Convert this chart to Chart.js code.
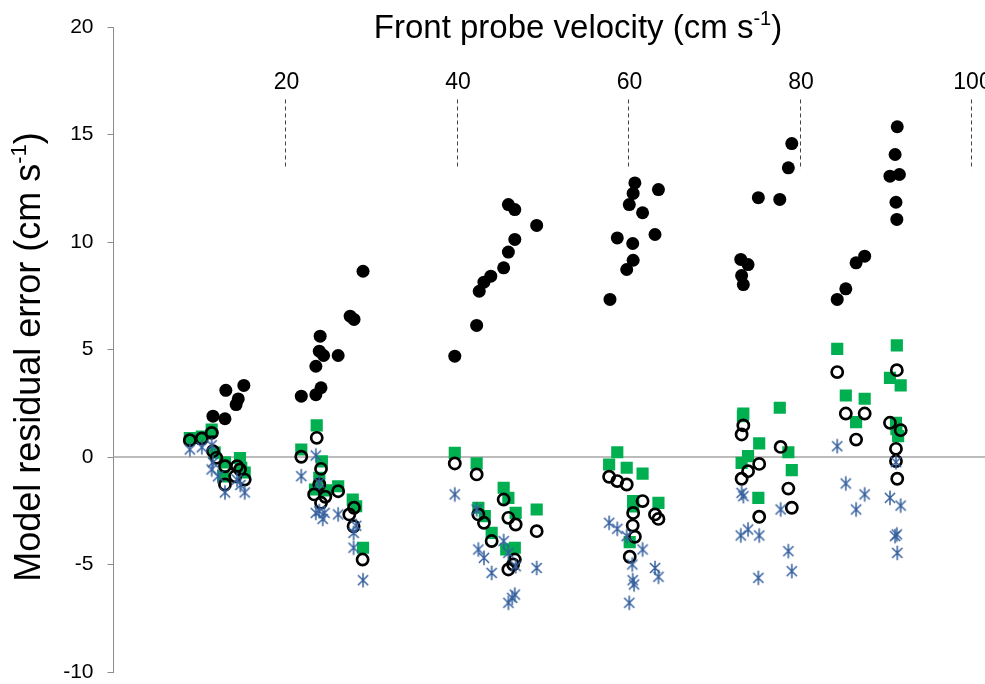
<!DOCTYPE html>
<html>
<head>
<meta charset="utf-8">
<script src="https://cdn.jsdelivr.net/npm/chart.js@4.4.1/dist/chart.umd.min.js"></script>
<style>
html,body{margin:0;padding:0;background:#fff;}
#wrap{width:985px;height:684px;}
</style>
</head>
<body>
<div id="wrap"><canvas id="c" width="985" height="684"></canvas></div>
<script>
// ---- data (front probe velocity, residual error) ----
const filledX = [8.9,10.1,11.5,11.6,13.0,13.1,14.3,14.55,15.2,
  21.9,23.6,24.2,23.6,24.0,24.5,26.2,24.1,27.6,28.05,29.1,
  39.8,42.35,42.65,43.2,44.0,45.5,46.05,46.8,46.05,46.8,49.35,
  57.9,59.85,60.6,58.75,60.55,63.15,61.7,60.15,60.6,60.8,63.55,
  73.15,74.0,73.25,73.45,75.2,77.7,78.7,79.1,
  84.4,85.4,86.6,87.6,90.55,91.65,91.15,91.4,91.25,91.35];
const filledY = [0.8,0.85,1.15,1.9,1.78,3.1,2.44,2.7,3.33,
  2.83,2.9,3.22,4.22,4.92,4.72,4.72,5.62,6.55,6.4,8.64,
  4.69,6.12,7.71,8.13,8.41,8.8,9.53,10.12,11.74,11.51,10.77,
  7.33,8.72,9.15,10.19,9.93,10.35,11.36,11.74,12.26,12.75,12.44,
  9.19,8.95,8.44,8.02,12.06,11.98,13.45,14.58,
  7.33,7.82,9.03,9.34,13.06,13.14,14.07,15.36,11.85,11.05];

const openX = [8.9,10.3,11.45,11.6,12.0,13.0,14.4,14.75,13.0,15.3,14.2,
  23.7,21.9,24.2,24.0,23.4,24.7,24.2,26.2,28.05,27.5,28.0,29.05,
  39.8,42.35,42.55,43.2,44.1,45.5,46.05,46.9,49.35,46.8,46.05,46.6,
  57.8,58.75,59.85,61.7,60.6,60.55,60.8,60.2,63.15,63.55,
  73.45,73.25,75.3,74.0,73.25,75.3,77.8,78.7,79.1,
  84.4,85.4,87.6,86.6,91.35,90.55,91.8,91.25,91.25,91.4];
const openY = [0.78,0.86,1.12,0.27,-0.04,-0.43,-0.43,-0.58,-1.28,-1.05,-0.9,
  0.89,0.01,-0.55,-1.28,-1.74,-1.85,-2.13,-1.59,-2.36,-2.67,-3.22,-4.77,
  -0.3,-0.81,-2.67,-3.06,-3.91,-1.98,-2.83,-3.14,-3.45,-4.77,-5.23,-5.0,
  -0.92,-1.12,-1.28,-2.05,-2.6,-3.19,-3.71,-4.64,-2.67,-2.88,
  1.47,1.05,-0.32,-0.66,-1.01,-2.78,0.47,-1.47,-2.36,
  3.95,2.02,2.02,0.81,4.04,1.59,1.25,0.38,-0.19,-1.01];

const squareX = [8.9,10.3,11.45,11.8,13.0,14.75,14.9,12.8,15.3,
  23.7,21.9,24.3,24.0,23.5,24.8,26.2,27.9,28.3,29.1,
  39.8,42.35,45.5,46.05,46.9,42.55,43.3,44.1,49.35,46.8,45.8,
  58.75,57.8,59.85,61.7,60.6,63.55,60.2,60.6,
  73.45,73.25,74.0,75.3,75.2,77.7,78.7,79.1,73.4,
  84.4,85.4,87.6,86.6,91.35,90.55,91.8,91.25,91.5,91.3];
const squareY = [0.88,0.95,1.28,0.2,-0.25,-0.05,-0.5,-0.9,-0.72,
  1.47,0.35,-0.2,-0.97,-1.51,-1.55,-1.36,-1.98,-2.29,-4.22,
  0.19,-0.3,-1.43,-1.9,-2.6,-2.36,-2.75,-3.53,-2.44,-4.22,-4.3,
  0.22,-0.35,-0.5,-0.77,-2.05,-2.13,-3.96,-2.3,
  2.02,-0.27,0.04,0.63,-1.9,2.29,0.22,-0.61,1.9,
  5.03,2.86,2.71,1.62,5.19,3.68,3.33,1.59,0.97,1.3];

const starX = [8.9,10.3,11.45,11.6,11.45,13.0,15.3,14.4,12.2,14.8,
  23.6,21.9,24.0,24.4,24.6,26.2,28.0,28.0,29.1,24.0,23.6,28.3,
  39.8,42.35,42.55,43.2,44.1,45.5,46.05,46.9,49.35,46.8,46.05,46.5,
  57.8,58.75,59.85,61.7,60.5,63.15,63.55,60.55,60.7,60.15,
  73.25,73.45,74.0,73.15,75.3,77.8,78.7,79.1,75.2,
  84.4,85.4,87.6,86.6,90.55,91.8,91.25,91.15,91.35,91.4];
const starY = [0.35,0.45,0.55,-0.25,-0.58,-1.65,-1.65,-1.05,-0.9,-1.3,
  0.07,-0.89,-2.52,-2.88,-2.6,-2.67,-3.53,-4.22,-5.73,-1.2,-2.6,-3.2,
  -1.74,-2.44,-4.3,-4.69,-5.39,-3.91,-4.46,-5.08,-5.16,-6.4,-6.78,-6.55,
  -3.06,-3.34,-3.68,-4.3,-5.0,-5.16,-5.57,-5.73,-5.93,-6.78,
  -1.67,-1.82,-3.37,-3.65,-3.65,-2.44,-4.38,-5.31,-5.62,
  0.5,-1.23,-1.74,-2.44,-1.9,-2.26,-0.24,-3.68,-3.6,-4.46];

const xTickValues = [20,40,60,80,100];
const yMin = -10, yMax = 20, yStep = 5;
const xMin = 0, xMax = 100;
const xTitle = 'Front probe velocity (cm s';
const yTitle = 'Model residual error (cm s';
const supText = '-1';

function pts(xs, ys){ return xs.map((x,i)=>({x:x, y:ys[i]})); }

// asterisk marker
function makeStar(color){
  const s = 18, c = document.createElement('canvas');
  c.width = s; c.height = s;
  const g = c.getContext('2d');
  g.strokeStyle = color; g.lineWidth = 1.5; g.lineCap = 'butt';
  const r = 7.2, cx = s/2, cy = s/2;
  g.beginPath();
  g.moveTo(cx, cy - r); g.lineTo(cx, cy + r);
  const d = r * Math.cos(Math.PI/4);
  g.moveTo(cx - d, cy - d); g.lineTo(cx + d, cy + d);
  g.moveTo(cx - d, cy + d); g.lineTo(cx + d, cy - d);
  g.stroke();
  return c;
}
const starImg = makeStar('#35609e');

const FONT = '"Liberation Sans", Arial, sans-serif';

function drawSupText(ctx, main, sup, x, y, size, family, align){
  ctx.font = size + 'px ' + family;
  const w1 = ctx.measureText(main).width;
  const supSize = Math.round(size * 0.6);
  ctx.font = supSize + 'px ' + family;
  const w2 = ctx.measureText(sup).width;
  ctx.font = size + 'px ' + family;
  const w3 = ctx.measureText(')').width;
  const total = w1 + w2 + w3;
  let sx = align === 'center' ? x - total/2 : x;
  ctx.textAlign = 'left';
  ctx.textBaseline = 'alphabetic';
  ctx.fillText(main, sx, y);
  ctx.font = supSize + 'px ' + family;
  ctx.fillText(sup, sx + w1, y - size * 0.38);
  ctx.font = size + 'px ' + family;
  ctx.fillText(')', sx + w1 + w2, y);
}

const decor = {
  id: 'decor',
  beforeDatasetsDraw(chart){
    const ctx = chart.ctx, xs = chart.scales.x, ys = chart.scales.y, ca = chart.chartArea;
    ctx.save();
    // zero line
    const y0 = ys.getPixelForValue(0);
    ctx.strokeStyle = '#a6a6a6'; ctx.lineWidth = 1.5;
    ctx.beginPath(); ctx.moveTo(ca.left, y0); ctx.lineTo(chart.width, y0); ctx.stroke();
    // dashed ticks & labels
    const yTop = ys.getPixelForValue(16.63), yBot = ys.getPixelForValue(13.37);
    ctx.strokeStyle = '#444'; ctx.lineWidth = 1; ctx.setLineDash([4,3]);
    xTickValues.forEach(v => {
      const px = Math.round(xs.getPixelForValue(v)) + 0.5;
      ctx.beginPath(); ctx.moveTo(px, yTop); ctx.lineTo(px, yBot); ctx.stroke();
    });
    ctx.setLineDash([]);
    ctx.fillStyle = '#000';
    ctx.font = '23px ' + FONT;
    ctx.textAlign = 'center'; ctx.textBaseline = 'alphabetic';
    xTickValues.forEach(v => {
      ctx.fillText(String(v), xs.getPixelForValue(v) + 1.5, ys.getPixelForValue(17.12));
    });
    // x title
    ctx.fillStyle = '#000';
    drawSupText(ctx, xTitle, supText, 578, 38, 33, FONT, 'center');
    // y title
    ctx.save();
    ctx.translate(40, 357);
    ctx.rotate(-Math.PI/2);
    drawSupText(ctx, yTitle, supText, 0, 0, 36, FONT, 'center');
    ctx.restore();
    ctx.restore();
  }
};

new Chart(document.getElementById('c'), {
  type: 'scatter',
  data: {
    datasets: [
      { label: 'Model D', data: pts(starX, starY), pointStyle: starImg, pointRadius: 9, showLine: false },
      { label: 'Model C', data: pts(openX, openY), pointStyle: 'circle', pointRadius: 5.6, borderWidth: 2.7,
        borderColor: '#000', backgroundColor: 'rgba(255,255,255,0)', showLine: false },
      { label: 'Model B', data: pts(squareX, squareY), pointStyle: 'rect', pointRadius: 8.6, borderWidth: 0,
        backgroundColor: '#00b050', borderColor: '#00b050', showLine: false },
      { label: 'Model A', data: pts(filledX, filledY), pointStyle: 'circle', pointRadius: 6.5, borderWidth: 0,
        backgroundColor: '#000', borderColor: '#000', showLine: false }
    ]
  },
  options: {
    responsive: false,
    devicePixelRatio: 1,
    animation: false,
    events: [],
    layout: { padding: { left: 0, top: 27, right: 14, bottom: 12 } },
    plugins: { legend: { display: false }, tooltip: { enabled: false } },
    scales: {
      x: { type: 'linear', min: xMin, max: xMax, display: false },
      y: {
        type: 'linear', min: yMin, max: yMax,
        afterFit(scale){ scale.width = 113.5; scale.paddingTop = 0; scale.paddingBottom = 0; },
        ticks: { stepSize: yStep, color: '#000', padding: 14, font: { family: FONT, size: 21, lineHeight: 1 } },
        grid: { drawOnChartArea: false, drawTicks: true, tickLength: 6, color: '#8c8c8c', lineWidth: 1 },
        border: { display: true, color: '#8c8c8c', width: 1 }
      }
    }
  },
  plugins: [decor]
});
</script>
</body>
</html>
